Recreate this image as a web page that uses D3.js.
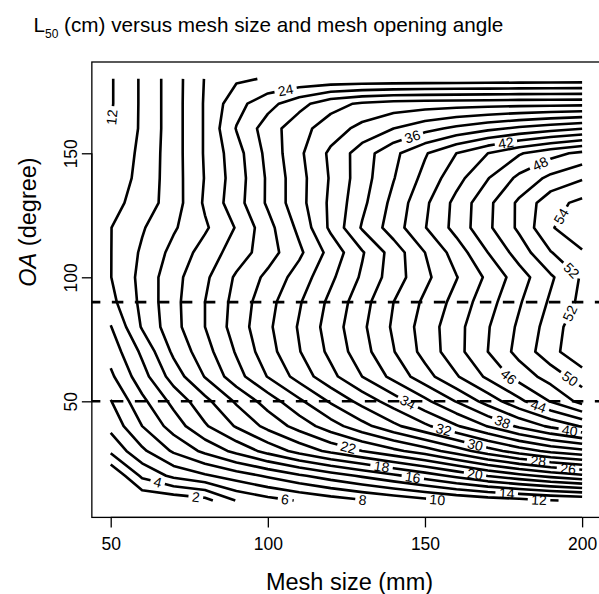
<!DOCTYPE html>
<html><head><meta charset="utf-8">
<script src="https://cdn.jsdelivr.net/npm/d3@7"></script>
<style>
body{margin:0;background:#fff}
text{font-family:"Liberation Sans",Arial,Helvetica,sans-serif}
</style></head>
<body><svg id="chart" width="599" height="594"></svg>
<script>
// ---------------- data ----------------
const meshSizes = [50,60,70,80,90,100,110,120,130,140,150,160,170,180,190,200];
const openingAngles = [10,20,30,40,50,60,70,80,90,100,110,120,130,140,150,160,170,180];
// L50 (cm), one row per opening angle, one value per mesh size
const l50_oa10  = [0.2,0.3,0.6,1.3,4.1,5.3,6.15,7.0,7.8,8.6,9.4,10.2,10.8,11.3,11.9,12.3];
const l50_oa20  = [0.0,4.4,6.5,7.7,9.0,10.3,11.7,13.0,14.3,15.6,17.0,18.5,20.1,21.4,22.6,23.6];
const l50_oa30  = [4.4,7.6,10.3,12.5,14.6,16.7,18.7,20.5,22.0,23.5,25.0,27.0,29.1,31.0,32.5,33.5];
const l50_oa40  = [6.6,10.0,12.9,15.75,18.2,20.6,22.8,25.1,27.3,29.5,31.6,33.8,36.1,38.4,40.4,42.2];
const l50_oa50  = [7.9,11.5,14.6,17.4,20.3,22.9,25.6,28.25,30.7,33.0,35.5,38.1,40.8,43.5,46.1,48.7];
const l50_oa60  = [9.6,13.2,16.9,20.1,23.2,26.1,28.8,31.4,34.0,36.6,39.2,41.8,44.4,46.8,48.9,51.0];
const l50_oa70  = [10.8,14.4,18.4,21.2,24.2,27.2,29.9,32.5,35.2,37.9,40.7,43.3,46.0,48.7,51.25,53.75];
const l50_oa80  = [11.9,16.2,19.3,22.0,24.9,27.6,30.2,32.9,35.6,38.3,40.9,43.3,45.85,48.35,50.9,53.6];
const l50_oa90  = [13.4,16.5,19.4,22.0,24.7,27.3,29.8,32.5,35.2,38.0,40.4,42.7,45.2,47.8,50.3,52.5];
const l50_oa100 = [13.95,16.6,19.3,21.6,24.3,26.5,28.9,31.6,34.3,37.0,39.5,41.9,44.4,47.1,49.7,52.25];
const l50_oa110 = [13.95,16.3,18.6,20.85,22.95,25.1,27.6,30.7,33.8,36.9,40.0,42.9,46.0,48.9,51.9,53.8];
const l50_oa120 = [13.95,15.8,17.75,19.7,22.15,25.3,28.5,32.4,36.2,39.0,41.9,44.7,47.6,50.4,53.8,55.5];
const l50_oa130 = [13.3,14.9,17.0,20.3,23.2,26.3,29.3,32.4,35.5,38.6,41.6,44.6,47.5,50.4,53.3,54.5];
const l50_oa140 = [12.8,14.6,17.1,20.1,23.0,26.3,29.3,32.2,35.1,37.9,40.6,43.3,45.9,48.5,50.5,51.8];
const l50_oa150 = [12.4,14.5,17.1,20.2,23.2,26.6,29.6,32.4,35.0,37.5,39.8,42.0,44.0,45.8,47.3,48.5];
const l50_oa160 = [12.0,14.3,17.1,20.2,24.1,27.0,29.3,31.0,32.6,34.0,35.3,36.5,37.5,38.4,39.2,39.9];
const l50_oa170 = [11.8,14.3,17.1,20.2,23.3,25.3,27.3,29.3,30.3,30.8,31.0,31.1,31.2,31.3,31.35,31.4];
const l50_oa180 = [11.8,14.3,17.1,20.1,21.7,22.15,22.3,22.4,22.45,22.5,22.55,22.6,22.65,22.7,22.75,22.8];
const contourLevels = [2,4,6,8,10,12,14,16,18,20,22,24,26,28,30,32,34,36,38,40,42,44,46,48,50,52,54,56];
const xTickValues = [50,100,150,200];
const yTickValues = [50,100,150];
const referenceAngles = [50,90];
// where each contour label sits (level, mesh size, opening angle)
const labelLevels = [12,24,36,42,48,54,52,52,46,50,44,34,38,40,32,30,22,28,26,18,16,20,14,12,10,8,6,4,2];
const labelMesh   = [50.4,105.5,145.9,175.8,186.3,192.4,196.3,195.6,176,195.2,186.1,144.2,174.5,196,156,166,125.6,186,195.5,136.2,146.1,165.9,176,186.3,155.8,133.6,105.5,64.6,77.1];
const labelAngle  = [164.4,176.5,157.1,153.9,146.7,125.3,102.3,85.8,58.8,57.4,48,48.7,41,37.8,38.6,32.5,31.4,25.7,22.5,23.8,19.1,20.4,12.8,10.4,10.4,10.1,10.4,15.7,11.6];

// ---------------- layout ----------------
const svg = d3.select("#chart");
const x = d3.scaleLinear().domain([44, 206]).range([91.85, 600.96]);
const y = d3.scaleLinear().domain([3.2, 186.8]).range([517.4, 62.0]);

const rows = [l50_oa10,l50_oa20,l50_oa30,l50_oa40,l50_oa50,l50_oa60,l50_oa70,l50_oa80,l50_oa90,
  l50_oa100,l50_oa110,l50_oa120,l50_oa130,l50_oa140,l50_oa150,l50_oa160,l50_oa170,l50_oa180];
const nx = meshSizes.length, ny = openingAngles.length;
const values = [];
rows.forEach(r => r.forEach(v => values.push(v)));

const dm = meshSizes[1]-meshSizes[0], da = openingAngles[1]-openingAngles[0];
const toData = p => [meshSizes[0] + (p[0]-0.5)*dm, openingAngles[0] + (p[1]-0.5)*da];
const mMin = meshSizes[0], mMax = meshSizes[nx-1], aMin = openingAngles[0], aMax = openingAngles[ny-1];
const eps = 1e-6;
const inside = p => p[0] >= mMin-eps && p[0] <= mMax+eps && p[1] >= aMin-eps && p[1] <= aMax+eps;

const contours = d3.contours().size([nx, ny]).thresholds(contourLevels)(values);

const lines = [];
contours.forEach(c => {
  c.coordinates.forEach(poly => poly.forEach(ring => {
    const pts = ring.slice(0, -1).map(toData);
    const n = pts.length;
    const firstOut = pts.findIndex(p => !inside(p));
    const push = arr => { if (arr.length > 1) lines.push({level: c.value, pts: arr.map(p => [x(p[0]), y(p[1])]), cuts: []}); };
    if (firstOut < 0) { push(pts.concat([pts[0]])); return; }
    let cur = [];
    for (let k = 1; k <= n; k++) {
      const p = pts[(firstOut + k) % n];
      if (inside(p)) cur.push(p); else { push(cur); cur = []; }
    }
    push(cur);
  }));
});
lines.forEach(l => {
  const s = [0];
  for (let i = 1; i < l.pts.length; i++) s.push(s[i-1] + Math.hypot(l.pts[i][0]-l.pts[i-1][0], l.pts[i][1]-l.pts[i-1][1]));
  l.s = s; l.len = s[s.length-1];
});
function pointAt(l, s) {
  s = Math.max(0, Math.min(l.len, s));
  let i = d3.bisectRight(l.s, s) - 1; if (i >= l.pts.length-1) i = l.pts.length-2; if (i < 0) i = 0;
  const seg = l.s[i+1]-l.s[i] || 1, t = (s - l.s[i]) / seg;
  return [l.pts[i][0] + t*(l.pts[i+1][0]-l.pts[i][0]), l.pts[i][1] + t*(l.pts[i+1][1]-l.pts[i][1])];
}

const plotL = x(44), plotR = x(206), plotT = y(186.8), plotB = y(3.2);

// labels
const labelFont = 14;
const labelG = svg.append("g");
labelLevels.forEach((lev, i) => {
  const tx = x(labelMesh[i]), ty = y(labelAngle[i]);
  let best = null;
  lines.filter(l => l.level === lev).forEach(l => {
    for (let k = 0; k < l.pts.length-1; k++) {
      const a = l.pts[k], b = l.pts[k+1];
      const dx = b[0]-a[0], dy = b[1]-a[1], L2 = dx*dx+dy*dy || 1;
      let t = ((tx-a[0])*dx + (ty-a[1])*dy)/L2; t = Math.max(0, Math.min(1, t));
      const px = a[0]+t*dx, py = a[1]+t*dy, d = Math.hypot(px-tx, py-ty);
      if (!best || d < best.d) best = {d, l, s: l.s[k] + t*Math.sqrt(L2)};
    }
  });
  if (!best) return;
  const txt = String(lev);
  const w = txt.length * 0.556 * labelFont + 7;
  const l = best.l;
  let s = Math.max(w/2, Math.min(l.len - w/2, best.s));
  if (l.len < w) s = l.len/2;
  const p1 = pointAt(l, s - w/2), p2 = pointAt(l, s + w/2), pc = pointAt(l, s);
  let ang = Math.atan2(p2[1]-p1[1], p2[0]-p1[0]) * 180 / Math.PI;
  if (ang > 90) ang -= 180; if (ang <= -90) ang += 180;
  l.cuts.push([s - w/2, s + w/2]);
  labelG.append("text").attr("transform", `translate(${pc[0]},${pc[1]}) rotate(${ang})`)
    .attr("text-anchor", "middle").attr("dy", "0.36em").attr("font-size", labelFont).text(txt);
});

// contour lines with label gaps
const lineGen = d3.line();
const lineG = svg.insert("g", ":first-child").attr("fill", "none").attr("stroke", "#000")
  .attr("stroke-width", 2.6).attr("stroke-linejoin", "round").attr("stroke-linecap", "butt");
lines.forEach(l => {
  const cuts = l.cuts.slice().sort((a, b) => a[0]-b[0]);
  let start = 0; const pieces = [];
  cuts.forEach(c => { if (c[0] > start) pieces.push([start, c[0]]); start = Math.max(start, c[1]); });
  if (start < l.len) pieces.push([start, l.len]);
  pieces.forEach(([a, b]) => {
    const pts = [pointAt(l, a)];
    l.s.forEach((sv, i) => { if (sv > a && sv < b) pts.push(l.pts[i]); });
    pts.push(pointAt(l, b));
    lineG.append("path").attr("d", lineGen(pts));
  });
});

// reference dashed lines
svg.append("g").selectAll("line").data(referenceAngles).join("line")
  .attr("x1", plotL).attr("x2", plotR).attr("y1", d => y(d)).attr("y2", d => y(d))
  .attr("stroke", "#000").attr("stroke-width", 2.6).attr("stroke-dasharray", "11.5,11.5")
  .attr("stroke-dashoffset", 3);

// box
svg.append("rect").attr("x", plotL).attr("y", plotT).attr("width", plotR-plotL).attr("height", plotB-plotT)
  .attr("fill", "none").attr("stroke", "#000").attr("stroke-width", 1.3);

// axes
const tickFont = 17.5;
const xAxis = d3.axisBottom(x).tickValues(xTickValues).tickSize(10).tickPadding(6).tickSizeOuter(0);
const gx = svg.append("g").attr("transform", `translate(0,${plotB})`).call(xAxis);
gx.select(".domain").attr("d", `M${x(xTickValues[0])},0H${x(xTickValues[xTickValues.length-1])}`).attr("stroke-width", 1.3);
gx.selectAll(".tick line").attr("stroke-width", 1.3);
gx.selectAll(".tick text").attr("font-size", tickFont).attr("font-family", '"Liberation Sans",Arial,sans-serif').attr("fill", "#000").attr("dy", "0.95em");

const yAxis = d3.axisLeft(y).tickValues(yTickValues).tickSize(10).tickSizeOuter(0);
const gy = svg.append("g").attr("transform", `translate(${plotL},0)`).call(yAxis);
gy.select(".domain").attr("d", `M0,${y(yTickValues[0])}V${y(yTickValues[yTickValues.length-1])}`).attr("stroke-width", 1.3);
gy.selectAll(".tick line").attr("stroke-width", 1.3);
gy.selectAll(".tick text").attr("font-size", tickFont).attr("font-family", '"Liberation Sans",Arial,sans-serif').attr("fill", "#000")
  .attr("x", null).attr("dy", null).attr("text-anchor", "middle")
  .attr("transform", "translate(-15,0) rotate(-90)");

// titles
const title = svg.append("text").attr("x", 268.4).attr("y", 31.7).attr("text-anchor", "middle").attr("font-size", 20.7);
title.append("tspan").text("L");
title.append("tspan").attr("font-size", 12).attr("dy", 6).text("50");
title.append("tspan").attr("dy", -6).text(" (cm) versus mesh size and mesh opening angle");

svg.append("text").attr("x", 349.5).attr("y", 589.6).attr("text-anchor", "middle")
  .attr("font-size", 23.5).text("Mesh size (mm)");
const yl = svg.append("text").attr("transform", "translate(36,222) rotate(-90)")
  .attr("text-anchor", "middle").attr("font-size", 23.5);
yl.append("tspan").attr("font-style", "italic").text("OA");
yl.append("tspan").text(" (degree)");
</script>
</body></html>
